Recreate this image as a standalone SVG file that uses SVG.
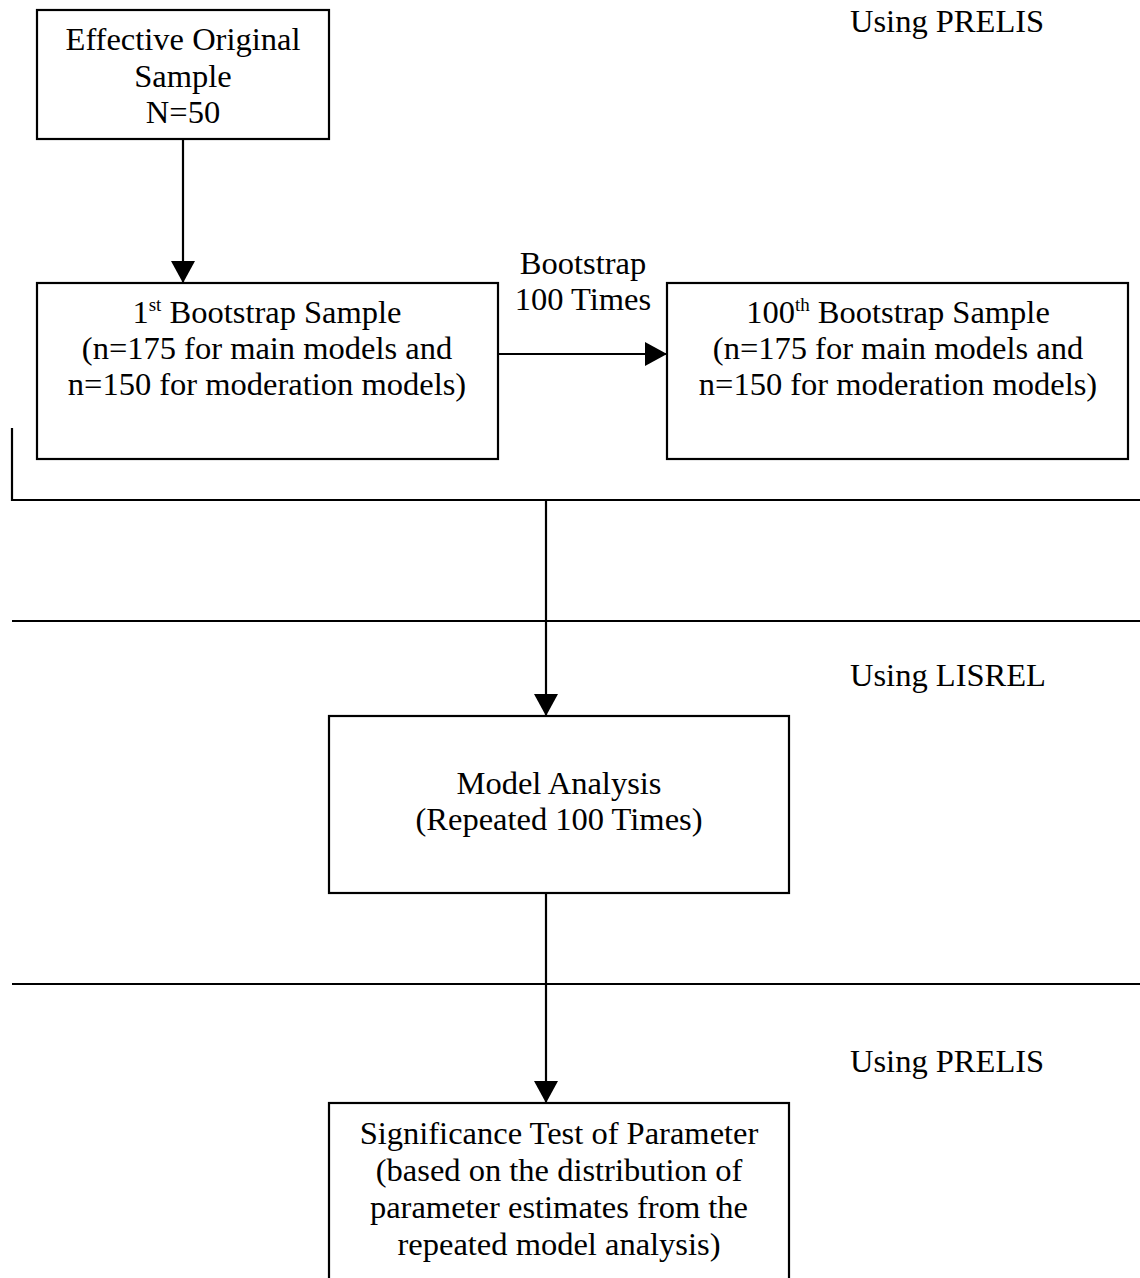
<svg xmlns="http://www.w3.org/2000/svg" width="1140" height="1278" viewBox="0 0 1140 1278">
<style>
.box{fill:#fff;stroke:#000;stroke-width:2.2}
.ln{fill:none;stroke:#000;stroke-width:2.2}
text{font-family:"Liberation Serif","Times New Roman",serif;font-size:32.5px;fill:#000}
.c{text-anchor:middle}
</style>
<defs>
<marker id="ah" markerWidth="22" markerHeight="24" refX="22" refY="12" orient="auto" markerUnits="userSpaceOnUse">
<path d="M0,0 L22,12 L0,24 Z" fill="#000"/>
</marker>
</defs>
<rect width="1140" height="1278" fill="#fff"/>
<g id="dividers">
<path class="ln" d="M12,428 V500 H1140"/>
<path class="ln" d="M12,621 H1140"/>
<path class="ln" d="M12,984 H1140"/>
</g>
<g id="connectors">
<path class="ln" d="M183,139 V283" marker-end="url(#ah)"/>
<path class="ln" d="M498,354 H667" marker-end="url(#ah)"/>
<path class="ln" d="M546,500 V716" marker-end="url(#ah)"/>
<path class="ln" d="M546,893 V1103" marker-end="url(#ah)"/>
<text class="c" x="583" y="274">Bootstrap</text>
<text class="c" x="583" y="310">100 Times</text>
</g>
<g id="labels">
<text x="850" y="32">Using PRELIS</text>
<text x="850" y="686">Using LISREL</text>
<text x="850" y="1072">Using PRELIS</text>
</g>
<g id="original">
<rect class="box" x="37" y="10" width="292" height="129"/>
<text class="c" x="183" y="50">Effective Original</text>
<text class="c" x="183" y="87">Sample</text>
<text class="c" x="183" y="123">N=50</text>
</g>
<g id="boot1">
<rect class="box" x="37" y="283" width="461" height="176"/>
<text class="c" x="267" y="323">1<tspan font-size="19" dy="-12">st</tspan><tspan dy="12"> Bootstrap Sample</tspan></text>
<text class="c" x="267" y="359">(n=175 for main models and</text>
<text class="c" x="267" y="395">n=150 for moderation models)</text>
</g>
<g id="boot100">
<rect class="box" x="667" y="283" width="461" height="176"/>
<text class="c" x="898" y="323">100<tspan font-size="19" dy="-12">th</tspan><tspan dy="12"> Bootstrap Sample</tspan></text>
<text class="c" x="898" y="359">(n=175 for main models and</text>
<text class="c" x="898" y="395">n=150 for moderation models)</text>
</g>
<g id="model">
<rect class="box" x="329" y="716" width="460" height="177"/>
<text class="c" x="559" y="794">Model Analysis</text>
<text class="c" x="559" y="830">(Repeated 100 Times)</text>
</g>
<g id="signif">
<rect class="box" x="329" y="1103" width="460" height="190"/>
<text class="c" x="559" y="1144">Significance Test of Parameter</text>
<text class="c" x="559" y="1181">(based on the distribution of</text>
<text class="c" x="559" y="1218">parameter estimates from the</text>
<text class="c" x="559" y="1255">repeated model analysis)</text>
</g>
</svg>
